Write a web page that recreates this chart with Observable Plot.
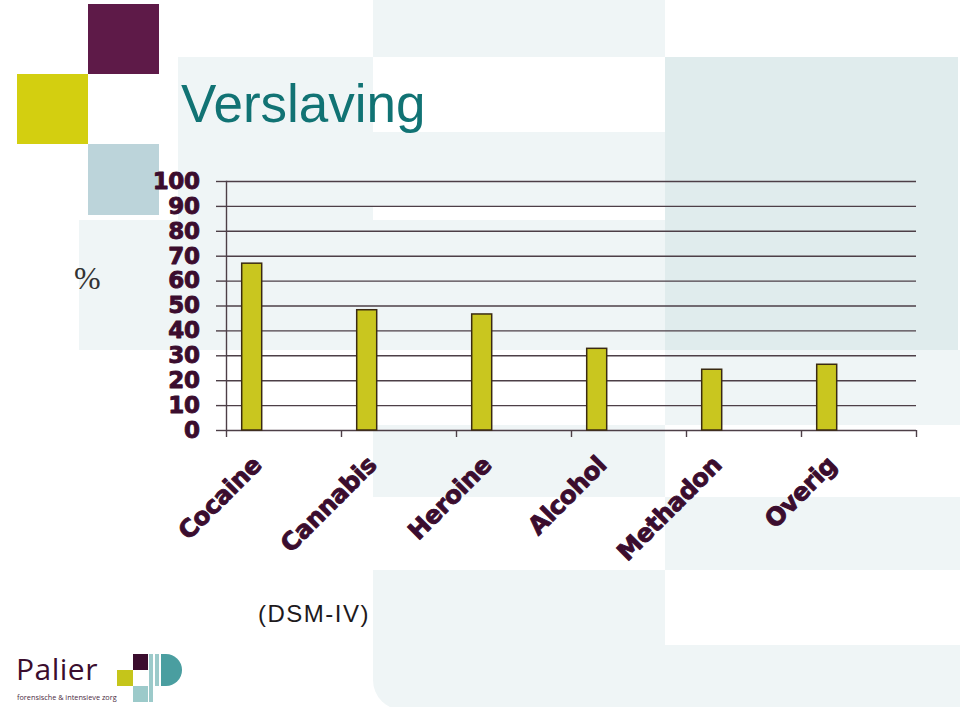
<!DOCTYPE html>
<html><head><meta charset="utf-8">
<script src="https://cdn.jsdelivr.net/npm/d3@7"></script>
<script src="https://cdn.jsdelivr.net/npm/@observablehq/plot@0.6"></script>
<style>
html,body{margin:0;padding:0;background:#fff;}
#page{position:relative;width:960px;height:707px;overflow:hidden;background:#fff;font-family:"Liberation Sans",Arial,sans-serif;}
.bg{position:absolute;}
.pale{background:#eff5f6;}
.blue{background:#e0eced;}
#title{position:absolute;left:181px;top:72px;font-size:53px;line-height:64px;color:#117374;font-family:"Liberation Sans",Arial,sans-serif;}
#pct{position:absolute;left:74px;top:260px;font-size:32px;color:#333;font-family:"Liberation Serif","Times New Roman",serif;}
#caption{position:absolute;left:258px;top:600px;font-size:24px;letter-spacing:1.5px;color:#1e1a1c;}
#chart{position:absolute;left:0;top:150px;}
#bname{position:absolute;left:16px;top:652px;font-family:"Open Sans",sans-serif;color:#3b0d2e;font-size:30px;line-height:34px;letter-spacing:0.5px;}
#bsub{position:absolute;left:17px;top:692px;font-family:"Open Sans",sans-serif;font-size:7.3px;line-height:10px;color:#4a2a3e;}
</style></head><body><div id="page">
<div class="bg pale" style="left:373px;top:0;width:292px;height:57px"></div>
<div class="bg pale" style="left:178px;top:57px;width:195px;height:220px"></div>
<div class="bg pale" style="left:373px;top:132px;width:292px;height:75px"></div>
<div class="bg pale" style="left:79px;top:220px;width:586px;height:130px"></div>
<div class="bg blue" style="left:665px;top:57px;width:293px;height:293px"></div>
<div class="bg pale" style="left:665px;top:350px;width:295px;height:75px"></div>
<div class="bg pale" style="left:373px;top:425px;width:292px;height:72px"></div>
<div class="bg pale" style="left:665px;top:497px;width:295px;height:73px"></div>
<div class="bg pale" style="left:373px;top:570px;width:292px;height:140px;border-bottom-left-radius:30px"></div>
<div class="bg pale" style="left:665px;top:645px;width:295px;height:62px"></div>
<div class="bg" style="left:88px;top:4px;width:71px;height:70px;background:#5e1a48"></div>
<div class="bg" style="left:17px;top:74px;width:71px;height:70px;background:#d3cf10"></div>
<div class="bg" style="left:88px;top:144px;width:71px;height:71px;background:#bcd4da"></div>
<div id="title"></div>
<div id="pct"></div>
<div id="chart"></div>
<div id="caption"></div>
<div id="bname"></div>
<div id="bsub"></div>
<div class="bg" style="left:133px;top:654px;width:15px;height:16px;background:#3b0d2e"></div>
<div class="bg" style="left:117px;top:670px;width:16px;height:16px;background:#c5c51a"></div>
<div class="bg" style="left:149px;top:654px;width:4px;height:48px;background:#9ccaca"></div>
<div class="bg" style="left:155px;top:654px;width:4px;height:32px;background:#9ccaca"></div>
<div class="bg" style="left:133px;top:686px;width:15px;height:16px;background:#9ccaca"></div>
<div class="bg" style="left:161px;top:654px;width:21px;height:32px;background:#4a9ea0;border-radius:0 16px 16px 0"></div>
</div>
<script>
const categories = ["Cocaine", "Cannabis", "Heroine", "Alcohol", "Methadon", "Overig"];
const values = [67, 48.3, 46.6, 32.8, 24.4, 26.4];
const yTicks = [0, 10, 20, 30, 40, 50, 60, 70, 80, 90, 100];
const titleText = "Verslaving";
const unitText = "%";
const captionText = "(DSM-IV)";
const brandName = "Palier";
const brandSub = "forensische & intensieve zorg";

document.getElementById("title").textContent = titleText;
document.getElementById("pct").textContent = unitText;
document.getElementById("caption").textContent = captionText;
document.getElementById("bname").textContent = brandName;
document.getElementById("bsub").textContent = brandSub;

const data = categories.map((c, i) => ({cat: c, val: values[i]}));
const W = 960, H = 420, mL = 226, mR = 44, mT = 31, mB = 140;
const bw = (W - mL - mR) / categories.length;
const ink = "#3b0d2e", grid = "#4d3f47";

const chart = Plot.plot({
  width: W, height: H,
  marginLeft: mL, marginRight: mR, marginTop: mT, marginBottom: mB,
  style: {background: "transparent", overflow: "visible"},
  x: {domain: categories, padding: 0, axis: null},
  y: {domain: [0, 100], axis: null},
  marks: [
    Plot.gridY(yTicks, {stroke: grid, strokeOpacity: 1, strokeWidth: 1.4}),
    Plot.axisY(yTicks, {tickSize: 10, tickPadding: 17, stroke: grid, strokeWidth: 1.4, fill: ink,
      fontSize: 23, fontWeight: "bold", fontFamily: "DejaVu Sans", label: null}),
    Plot.frame({anchor: "left", stroke: grid, strokeWidth: 1.4}),
    Plot.axisX(categories, {tickSize: 7, dx: -bw / 2, stroke: grid, strokeWidth: 1.4, tickFormat: () => "", label: null}),
    Plot.axisX([categories[categories.length - 1]], {tickSize: 7, dx: bw / 2, stroke: grid, strokeWidth: 1.4, tickFormat: () => "", label: null}),
    Plot.barY(data, {x: "cat", y: "val", fill: "#c9c61f", stroke: "#3a2a12", strokeWidth: 1.5,
      insetLeft: 15.7, insetRight: bw - 35.7}),
    Plot.text(data, {x: "cat", frameAnchor: "bottom", text: "cat", rotate: -45, textAnchor: "end",
      lineAnchor: "bottom", dx: -21, dy: 36, fontSize: 24.5, fontWeight: "bold", fontFamily: "DejaVu Sans", fill: ink})
  ]
});
d3.select(chart).selectAll("text")
  .attr("stroke", ink).attr("stroke-width", 0.9).attr("stroke-linejoin", "round")
  .style("letter-spacing", "-0.4px");
document.getElementById("chart").appendChild(chart);
</script>
</body></html>
